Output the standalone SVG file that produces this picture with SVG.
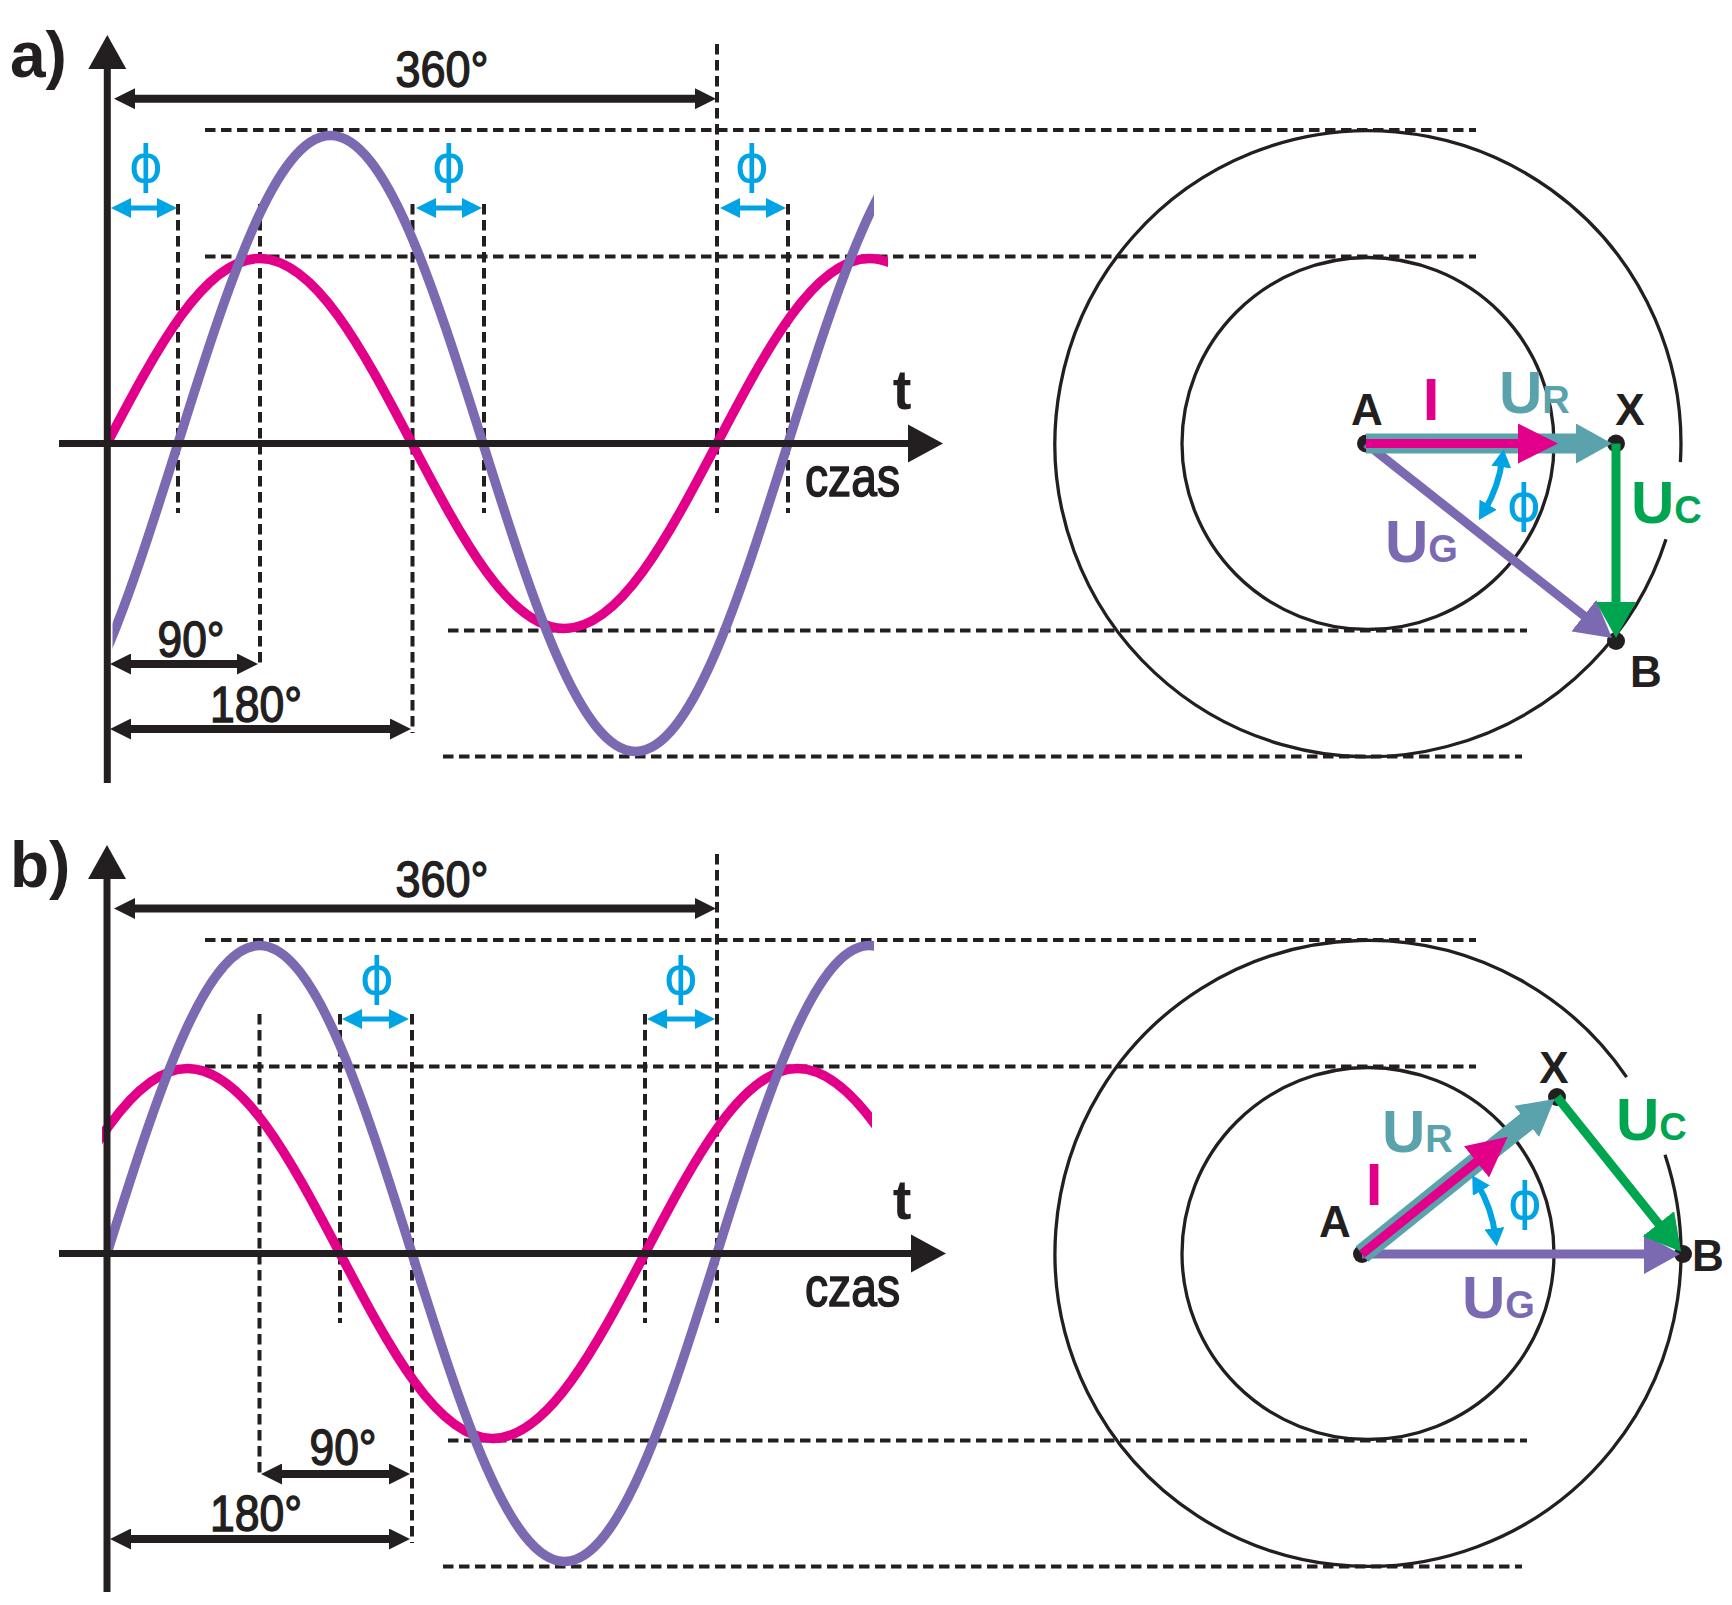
<svg xmlns="http://www.w3.org/2000/svg" width="1732" height="1605" viewBox="0 0 1732 1605">
<style>
.dash{fill:none;stroke:#231f20;stroke-width:4;stroke-dasharray:10.5 5.5}
.ax{fill:none;stroke:#231f20;stroke-width:7}
.dim{fill:none;stroke:#231f20;stroke-width:8}
.phl{fill:none;stroke:#00a4e4;stroke-width:5}
.arc{fill:none;stroke:#00a4e4;stroke-width:6}
.ci{fill:none;stroke:#231f20;stroke-width:3.3}
.mg{fill:none;stroke:#e2008a;stroke-width:9.5}
.pu{fill:none;stroke:#7b6ab2;stroke-width:9.5}
.vt{fill:none;stroke:#5aa3ac;stroke-width:20}
.vm{fill:none;stroke:#e2008a;stroke-width:9}
.vg{fill:none;stroke:#00a54f;stroke-width:9}
.vp{fill:none;stroke:#7b6ab2;stroke-width:9}
.dot{fill:#231f20}
text{font-family:"Liberation Sans",Arial,Helvetica,sans-serif}
.num{font-size:50px;fill:#231f20;stroke:#231f20;stroke-width:1.4;text-anchor:middle}
.czas{font-size:56px;fill:#231f20;stroke:#231f20;stroke-width:1.6}
.t{font-size:56px;font-weight:bold;fill:#231f20;text-anchor:middle}
.pl{font-size:64px;font-weight:bold;fill:#231f20}
.pt{font-size:44px;font-weight:bold;fill:#231f20;text-anchor:middle}
.big{font-size:60px;font-weight:bold}
.sub{font-size:38px}
.ph{font-family:"DejaVu Sans","Liberation Sans",sans-serif;font-size:52px;fill:#00a4e4;text-anchor:middle}
</style>
<defs>
<marker id="mk" markerUnits="userSpaceOnUse" viewBox="0 -10.5 21 21" markerWidth="21" markerHeight="21" refX="9" refY="0" orient="auto-start-reverse"><path d="M0,-10.5L21,0L0,10.5z" fill="#231f20"/></marker>
<marker id="mc" markerUnits="userSpaceOnUse" viewBox="0 -10 20 20" markerWidth="20" markerHeight="20" refX="10" refY="0" orient="auto-start-reverse"><path d="M0,-10L20,0L0,10z" fill="#00a4e4"/></marker>
<marker id="mca" markerUnits="userSpaceOnUse" viewBox="0 -10 18 20" markerWidth="18" markerHeight="20" refX="8" refY="0" orient="auto-start-reverse"><path d="M0,-10L18,0L0,10z" fill="#00a4e4"/></marker>
<marker id="mt" markerUnits="userSpaceOnUse" viewBox="0 -20 36 40" markerWidth="36" markerHeight="40" refX="18" refY="0" orient="auto"><path d="M0,-20L36,0L0,20z" fill="#5aa3ac"/></marker>
<marker id="mm" markerUnits="userSpaceOnUse" viewBox="0 -20 40 40" markerWidth="40" markerHeight="40" refX="20" refY="0" orient="auto"><path d="M0,-20L40,0L0,20z" fill="#e2008a"/></marker>
<marker id="mg" markerUnits="userSpaceOnUse" viewBox="0 -20 36 40" markerWidth="36" markerHeight="40" refX="18" refY="0" orient="auto"><path d="M0,-20L36,0L0,20z" fill="#00a54f"/></marker>
<marker id="mp" markerUnits="userSpaceOnUse" viewBox="0 -20 36 40" markerWidth="36" markerHeight="40" refX="18" refY="0" orient="auto"><path d="M0,-20L36,0L0,20z" fill="#7b6ab2"/></marker>
<clipPath id="ca-m"><rect x="107" y="0" width="781" height="1605"/></clipPath>
<clipPath id="ca-p"><rect x="112.5" y="0" width="761.5" height="1605"/></clipPath>
<clipPath id="cb-m"><rect x="102" y="0" width="770" height="1605"/></clipPath>
<clipPath id="cb-p"><rect x="107" y="0" width="767" height="1605"/></clipPath>
</defs>
<rect width="1732" height="1605" fill="#ffffff"/>

<!-- ================= PANEL A ================= -->
<g id="a-guides">
<line class="dash" x1="205" y1="130" x2="1476" y2="130"/>
<line class="dash" x1="205" y1="256.5" x2="1476" y2="256.5"/>
<line class="dash" x1="448" y1="630.5" x2="1527" y2="630.5"/>
<line class="dash" x1="443" y1="756.5" x2="1522" y2="756.5"/>
<line class="dash" x1="178" y1="204" x2="178" y2="513"/>
<line class="dash" x1="260" y1="204" x2="260" y2="668"/>
<line class="dash" x1="412.5" y1="204" x2="412.5" y2="733"/>
<line class="dash" x1="484" y1="204" x2="484" y2="513"/>
<line class="dash" x1="717" y1="44" x2="717" y2="513"/>
<line class="dash" x1="788" y1="204" x2="788" y2="513"/>
</g>
<g id="a-curves">
<path class="mg" clip-path="url(#ca-m)" d="M107,443.5 C156.74,348.73 204.31,258.5 259.5,258.5 C314.69,258.5 362.26,348.73 412,443.5 C461.74,538.27 509.31,628.5 564.5,628.5 C619.69,628.5 667.26,538.27 717,443.5 C766.74,348.73 814.31,258.5 869.5,258.5 C924.69,258.5 972.26,348.73 1022,443.5"/>
<path class="pu" clip-path="url(#ca-p)" d="M25.5,751.5 C80.69,751.5 128.26,601.29 178,443.5 C227.74,285.71 275.31,135.5 330.5,135.5 C385.69,135.5 433.26,285.71 483,443.5 C532.74,601.29 580.31,751.5 635.5,751.5 C690.69,751.5 738.26,601.29 788,443.5 C837.74,285.71 885.31,135.5 940.5,135.5"/>
</g>
<g id="a-axes">
<line class="ax" x1="107.3" y1="783" x2="107.3" y2="62"/>
<polygon points="107.3,35 126.3,69 88.3,69" fill="#231f20"/>
<line class="ax" x1="59" y1="443.5" x2="915" y2="443.5"/>
<polygon points="943,443.5 908,462.5 908,424.5" fill="#231f20"/>
<text class="t" x="902" y="409">t</text>
<text class="czas" x="805" y="496" textLength="95" lengthAdjust="spacingAndGlyphs">czas</text>
</g>
<g id="a-dimensions">
<line class="dim" x1="126" y1="98.7" x2="704" y2="98.7" marker-start="url(#mk)" marker-end="url(#mk)"/>
<text class="num" x="442" y="87" textLength="93" lengthAdjust="spacingAndGlyphs">360°</text>
<line class="dim" x1="122" y1="664" x2="246" y2="664" marker-start="url(#mk)" marker-end="url(#mk)"/>
<text class="num" x="191" y="657" textLength="67" lengthAdjust="spacingAndGlyphs">90°</text>
<line class="dim" x1="122" y1="729" x2="399" y2="729" marker-start="url(#mk)" marker-end="url(#mk)"/>
<text class="num" x="256" y="722" textLength="92" lengthAdjust="spacingAndGlyphs">180°</text>
<line class="phl" x1="121" y1="208" x2="167" y2="208" marker-start="url(#mc)" marker-end="url(#mc)"/>
<line class="phl" x1="426" y1="208" x2="472" y2="208" marker-start="url(#mc)" marker-end="url(#mc)"/>
<line class="phl" x1="730" y1="208" x2="776" y2="208" marker-start="url(#mc)" marker-end="url(#mc)"/>
<text class="ph" x="146" y="182">ϕ</text>
<text class="ph" x="449" y="182">ϕ</text>
<text class="ph" x="752" y="182">ϕ</text>
<text class="pl" x="10" y="77">a)</text>
</g>
<g id="a-phasor">
<circle class="ci" cx="1368" cy="443.5" r="186"/>
<path class="ci" d="M1666.0,539.2 A313,313 0 1 1 1680.4,462.1"/>
<circle class="dot" cx="1366" cy="443.5" r="9"/>
<circle class="dot" cx="1616" cy="443.5" r="9"/>
<circle class="dot" cx="1616" cy="641" r="9"/>
<line class="vp" x1="1366" y1="443.5" x2="1597.9" y2="626.8" marker-end="url(#mp)"/>
<line class="vg" x1="1616" y1="443.5" x2="1616" y2="620" marker-end="url(#mg)"/>
<line class="vt" x1="1366" y1="443.5" x2="1594" y2="443.5" marker-end="url(#mt)"/>
<line class="vm" x1="1366" y1="443.5" x2="1538" y2="443.5" marker-end="url(#mm)"/>
<path class="arc" d="M1502.3,459.1 A137,137 0 0 1 1484.0,511.5" marker-start="url(#mca)" marker-end="url(#mca)"/>
<text class="pt" x="1367" y="425">A</text>
<text class="pt" x="1630" y="425">X</text>
<text class="pt" x="1646" y="687">B</text>
<text class="pt big" x="1431" y="420" style="fill:#e2008a">I</text>
<text x="1499" y="413" font-weight="bold" fill="#5aa3ac"><tspan class="big">U</tspan><tspan class="sub">R</tspan></text>
<text x="1631" y="523" font-weight="bold" fill="#00a54f"><tspan class="big">U</tspan><tspan class="sub">C</tspan></text>
<text x="1385" y="562" font-weight="bold" fill="#7b6ab2"><tspan class="big">U</tspan><tspan class="sub">G</tspan></text>
<text class="ph" x="1524" y="521">ϕ</text>
</g>

<!-- ================= PANEL B ================= -->
<g id="b-guides">
<line class="dash" x1="205" y1="940" x2="1476" y2="940"/>
<line class="dash" x1="205" y1="1066.5" x2="1476" y2="1066.5"/>
<line class="dash" x1="448" y1="1440.5" x2="1527" y2="1440.5"/>
<line class="dash" x1="443" y1="1566.5" x2="1522" y2="1566.5"/>
<line class="dash" x1="259.5" y1="1014" x2="259.5" y2="1478"/>
<line class="dash" x1="340" y1="1014" x2="340" y2="1323"/>
<line class="dash" x1="412" y1="1014" x2="412" y2="1543"/>
<line class="dash" x1="645" y1="1014" x2="645" y2="1323"/>
<line class="dash" x1="717" y1="854" x2="717" y2="1323"/>
</g>
<g id="b-curves">
<path class="mg" clip-path="url(#cb-m)" d="M35,1253.5 C84.74,1158.73 132.31,1068.5 187.5,1068.5 C242.69,1068.5 290.26,1158.73 340,1253.5 C389.74,1348.27 437.31,1438.5 492.5,1438.5 C547.69,1438.5 595.26,1348.27 645,1253.5 C694.74,1158.73 742.31,1068.5 797.5,1068.5 C852.69,1068.5 900.26,1158.73 950,1253.5"/>
<path class="pu" clip-path="url(#cb-p)" d="M107,1253.5 C156.74,1095.71 204.31,945.5 259.5,945.5 C314.69,945.5 362.26,1095.71 412,1253.5 C461.74,1411.29 509.31,1561.5 564.5,1561.5 C619.69,1561.5 667.26,1411.29 717,1253.5 C766.74,1095.71 814.31,945.5 869.5,945.5 C924.69,945.5 972.26,1095.71 1022,1253.5"/>
</g>
<g id="b-axes">
<line class="ax" x1="107" y1="1592" x2="107" y2="872"/>
<polygon points="107,845 126,879 88,879" fill="#231f20"/>
<line class="ax" x1="59" y1="1253.5" x2="918" y2="1253.5"/>
<polygon points="946,1253.5 911,1272.5 911,1234.5" fill="#231f20"/>
<text class="t" x="902" y="1219">t</text>
<text class="czas" x="805" y="1306" textLength="95" lengthAdjust="spacingAndGlyphs">czas</text>
</g>
<g id="b-dimensions">
<line class="dim" x1="126" y1="908.5" x2="704" y2="908.5" marker-start="url(#mk)" marker-end="url(#mk)"/>
<text class="num" x="442" y="897" textLength="93" lengthAdjust="spacingAndGlyphs">360°</text>
<line class="dim" x1="273" y1="1474" x2="398" y2="1474" marker-start="url(#mk)" marker-end="url(#mk)"/>
<text class="num" x="343" y="1465" textLength="67" lengthAdjust="spacingAndGlyphs">90°</text>
<line class="dim" x1="122" y1="1539" x2="398" y2="1539" marker-start="url(#mk)" marker-end="url(#mk)"/>
<text class="num" x="256" y="1531" textLength="92" lengthAdjust="spacingAndGlyphs">180°</text>
<line class="phl" x1="352" y1="1019" x2="399" y2="1019" marker-start="url(#mc)" marker-end="url(#mc)"/>
<line class="phl" x1="657" y1="1019" x2="705" y2="1019" marker-start="url(#mc)" marker-end="url(#mc)"/>
<text class="ph" x="377" y="994">ϕ</text>
<text class="ph" x="681" y="994">ϕ</text>
<text class="pl" x="10" y="887">b)</text>
</g>
<g id="b-phasor">
<circle class="ci" cx="1368" cy="1253.5" r="186"/>
<path class="ci" d="M1665.0,1154.7 A313,313 0 1 1 1626.6,1077.1"/>
<circle class="dot" cx="1362" cy="1254" r="9"/>
<circle class="dot" cx="1557" cy="1097" r="9"/>
<circle class="dot" cx="1683" cy="1254" r="9"/>
<line class="vp" x1="1362" y1="1254" x2="1662" y2="1254" marker-end="url(#mp)"/>
<line class="vg" x1="1557" y1="1097" x2="1669.8" y2="1237.7" marker-end="url(#mg)"/>
<line class="vt" x1="1362" y1="1254" x2="1540.6" y2="1110.2" marker-end="url(#mt)"/>
<line class="vm" x1="1362" y1="1254" x2="1492.1" y2="1149.3" marker-end="url(#mm)"/>
<path class="arc" d="M1495.4,1236.3 A135,135 0 0 0 1477.3,1183.8" marker-start="url(#mca)" marker-end="url(#mca)"/>
<text class="pt" x="1335" y="1237">A</text>
<text class="pt" x="1554" y="1083">X</text>
<text class="pt" x="1708" y="1271">B</text>
<text class="pt big" x="1374" y="1205" style="fill:#e2008a">I</text>
<text x="1382" y="1152" font-weight="bold" fill="#5aa3ac"><tspan class="big">U</tspan><tspan class="sub">R</tspan></text>
<text x="1616" y="1140" font-weight="bold" fill="#00a54f"><tspan class="big">U</tspan><tspan class="sub">C</tspan></text>
<text x="1462" y="1318" font-weight="bold" fill="#7b6ab2"><tspan class="big">U</tspan><tspan class="sub">G</tspan></text>
<text class="ph" x="1525" y="1219">ϕ</text>
</g>
</svg>
